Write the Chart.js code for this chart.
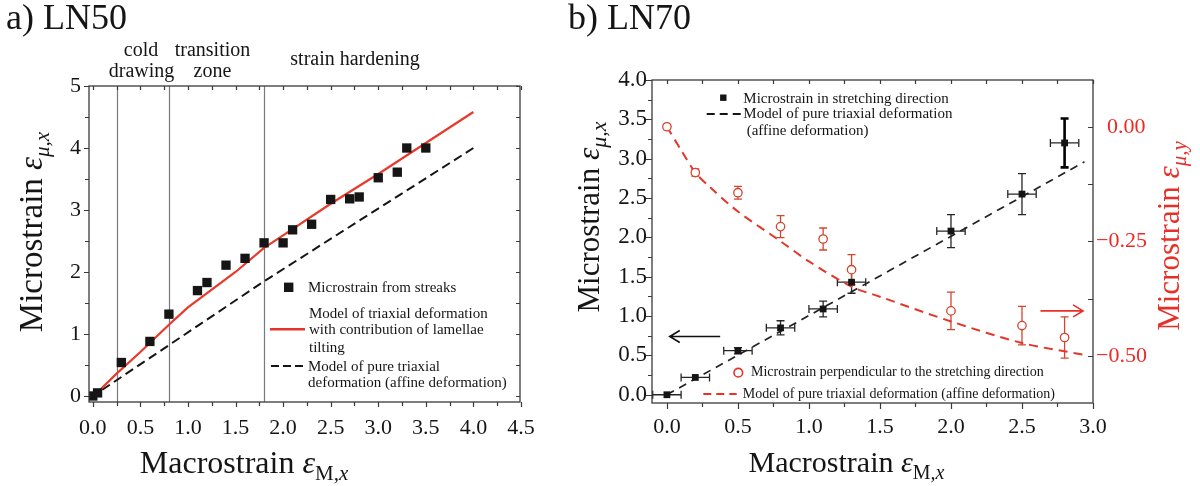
<!DOCTYPE html>
<html><head><meta charset="utf-8">
<script src="https://cdn.jsdelivr.net/npm/chart.js@4/dist/chart.umd.min.js"></script>
<style>
html,body{margin:0;padding:0;background:#fff;width:1200px;height:486px;overflow:hidden}
#wa{position:absolute;left:0;top:0;width:560px;height:486px}
#wb{position:absolute;left:560px;top:0;width:640px;height:486px}
canvas{display:block}
</style></head><body>
<div id="wa"><canvas id="ca" width="560" height="486"></canvas></div>
<div id="wb"><canvas id="cb" width="640" height="486"></canvas></div>
<script>
// ================= Panel a) LN50 =================
const aStrainX = [0.0, 0.05, 0.30, 0.60, 0.80, 1.10, 1.20, 1.40, 1.60, 1.80, 2.00, 2.10, 2.30, 2.50, 2.70, 2.80, 3.00, 3.20, 3.30, 3.50];
const aStrainY = [0.0, 0.05, 0.54, 0.88, 1.32, 1.70, 1.83, 2.11, 2.22, 2.47, 2.47, 2.68, 2.77, 3.17, 3.18, 3.21, 3.52, 3.61, 4.00, 4.00];
const aTiltModelX = [0.05, 0.25, 0.50, 0.80, 1.00, 1.50, 1.80, 2.00, 2.50, 3.00, 3.50, 4.00];
const aTiltModelY = [0.06, 0.36, 0.71, 1.15, 1.43, 2.00, 2.39, 2.59, 3.10, 3.58, 4.08, 4.58];
const aAffineX = [0.10, 0.80, 1.80, 4.00];
const aAffineY = [0.10, 0.82, 1.85, 4.00];
const aRegionBounds = [0.25, 0.80, 1.80];
const aXTicks = [0, 0.5, 1, 1.5, 2, 2.5, 3, 3.5, 4, 4.5];
const aXTickLabels = ['0.0', '0.5', '1.0', '1.5', '2.0', '2.5', '3.0', '3.5', '4.0', '4.5'];
const aYTicks = [0, 1, 2, 3, 4, 5];
const aYTickLabels = ['0', '1', '2', '3', '4', '5'];
const aXMinor = [0, 0.25, 0.5, 0.75, 1, 1.25, 1.5, 1.75, 2, 2.25, 2.5, 2.75, 3, 3.25, 3.5, 3.75, 4, 4.25, 4.5];
const aYMinor = [0, 0.5, 1, 1.5, 2, 2.5, 3, 3.5, 4, 4.5, 5];

// ================= Panel b) LN70 =================
const bMacro = [0.0, 0.2, 0.5, 0.8, 1.1, 1.3, 2.0, 2.5, 2.8];
const bMacroErr = [0.1, 0.1, 0.1, 0.1, 0.1, 0.1, 0.1, 0.1, 0.1];
const bStretch = [0.0, 0.22, 0.56, 0.85, 1.09, 1.43, 2.08, 2.55, 3.20];
const bStretchErr = [0.0, 0.0, 0.04, 0.09, 0.10, 0.14, 0.21, 0.26, 0.31];
const bPerp = [0.0, -0.100, -0.144, -0.218, -0.245, -0.312, -0.402, -0.434, -0.460];
const bPerpErr = [0.0, 0.008, 0.014, 0.024, 0.024, 0.033, 0.041, 0.042, 0.045];
const bAffineStretchX = [0.0, 2.94];
const bAffineStretchY = [0.0, 2.96];
const bAffinePerpX = [0.0, 0.1, 0.2, 0.3, 0.5, 0.8, 1.0, 1.3, 1.5, 2.0, 2.5, 2.94];
const bAffinePerpY = [0.0, -0.051, -0.100, -0.131, -0.185, -0.250, -0.294, -0.349, -0.371, -0.425, -0.472, -0.498];
const bXTicks = [0, 0.5, 1, 1.5, 2, 2.5, 3];
const bXTickLabels = ['0.0', '0.5', '1.0', '1.5', '2.0', '2.5', '3.0'];
const bYTicks = [0, 0.5, 1, 1.5, 2, 2.5, 3, 3.5, 4];
const bYTickLabels = ['0.0', '0.5', '1.0', '1.5', '2.0', '2.5', '3.0', '3.5', '4.0'];
const bY2Ticks = [0, -0.25, -0.5];
const bY2TickLabels = ['\u20070.00', '\u22120.25', '\u22120.50'];
const bXMinor = [0, 0.25, 0.5, 0.75, 1, 1.25, 1.5, 1.75, 2, 2.25, 2.5, 2.75, 3];
const bYMinor = [0, 0.25, 0.5, 0.75, 1, 1.25, 1.5, 1.75, 2, 2.25, 2.5, 2.75, 3, 3.25, 3.5, 3.75, 4];
const bY2Minor = [0, -0.125, -0.25, -0.375, -0.5];
const bArrowLeft = {from: 0.375, to: 0.02, y: 0.74};
const bArrowRight = {from: 2.63, to: 2.93, y: -0.402};

// ================= helpers =================
const SERIF = '"Liberation Serif", "Times New Roman", serif';
const F = (s, st) => (st ? st + ' ' : '') + s + 'px ' + SERIF;
const RED = '#e8302a';
const RED_DATA = '#d2452f';
const INK = '#151515';

function richWidth(ctx, parts) {
  let w = 0;
  for (const p of parts) { ctx.font = p.f; w += ctx.measureText(p.t).width; }
  return w;
}
function drawRich(ctx, parts, x, y, align) {
  const w = richWidth(ctx, parts);
  let cx = align === 'center' ? x - w / 2 : (align === 'right' ? x - w : x);
  ctx.textAlign = 'left';
  ctx.textBaseline = 'alphabetic';
  for (const p of parts) {
    ctx.font = p.f;
    ctx.fillText(p.t, cx, y + (p.dy || 0));
    cx += ctx.measureText(p.t).width;
  }
}
function drawRichRot(ctx, parts, bx, cy) {
  ctx.save();
  ctx.translate(bx, cy);
  ctx.rotate(-Math.PI / 2);
  drawRich(ctx, parts, 0, 0, 'center');
  ctx.restore();
}
function text(ctx, t, x, y, font, align, color) {
  ctx.font = font; ctx.textAlign = align || 'left'; ctx.textBaseline = 'alphabetic';
  ctx.fillStyle = color || INK; ctx.fillText(t, x, y);
}
function ticksX(ctx, sc, vals, majors, yPix, lenMaj, lenMin, dir) {
  ctx.beginPath();
  for (const v of vals) {
    const p = Math.round(sc.getPixelForValue(v)) + 0.5;
    const l = majors.includes(v) ? lenMaj : lenMin;
    ctx.moveTo(p, yPix); ctx.lineTo(p, yPix + dir * l);
  }
  ctx.stroke();
}
function ticksY(ctx, sc, vals, majors, xPix, lenMaj, lenMin, dir) {
  ctx.beginPath();
  for (const v of vals) {
    const p = Math.round(sc.getPixelForValue(v)) + 0.5;
    const l = majors.includes(v) ? lenMaj : lenMin;
    ctx.moveTo(xPix, p); ctx.lineTo(xPix + dir * l, p);
  }
  ctx.stroke();
}
function frame(ctx, ca) {
  ctx.save();
  ctx.strokeStyle = '#3a3a3a'; ctx.lineWidth = 1.3; ctx.setLineDash([]);
  ctx.strokeRect(ca.left, ca.top, ca.right - ca.left, ca.bottom - ca.top);
  ctx.restore();
}
function xyData(xs, ys) { return xs.map((x, i) => ({x: x, y: ys[i]})); }
function fixedTicks(vals) { return s => { s.ticks = vals.map(v => ({value: v})); }; }
function arrow(ctx, x0, x1, y, color) {
  ctx.save();
  ctx.strokeStyle = color; ctx.lineWidth = 1.6; ctx.setLineDash([]);
  const d = x1 > x0 ? 1 : -1;
  ctx.beginPath();
  ctx.moveTo(x0, y); ctx.lineTo(x1, y);
  ctx.moveTo(x1 - d * 10, y - 6); ctx.lineTo(x1, y); ctx.lineTo(x1 - d * 10, y + 6);
  ctx.stroke();
  ctx.restore();
}

// ================= Chart a =================
const plugA = {
  id: 'plugA',
  beforeDatasetsDraw(chart) {
    const ctx = chart.ctx, ca = chart.chartArea, xs = chart.scales.x;
    ctx.save();
    ctx.strokeStyle = '#7a7a7a'; ctx.lineWidth = 1.2;
    ctx.beginPath();
    for (const b of aRegionBounds) {
      const p = Math.round(xs.getPixelForValue(b)) + 0.5;
      ctx.moveTo(p, ca.top); ctx.lineTo(p, ca.bottom);
    }
    ctx.stroke();
    ctx.restore();
  },
  afterDraw(chart) {
    const ctx = chart.ctx, ca = chart.chartArea, xs = chart.scales.x, ys = chart.scales.y;
    frame(ctx, ca);
    ctx.save();
    ctx.strokeStyle = '#3a3a3a'; ctx.lineWidth = 1.2;
    ticksX(ctx, xs, aXMinor, aXTicks, ca.bottom, 5, 4, 1);
    ticksX(ctx, xs, aXMinor, aXTicks, ca.top, 4, 4, 1);
    ticksY(ctx, ys, aYMinor, aYTicks, ca.left, 5, 4, -1);
    ticksY(ctx, ys, aYMinor, aYTicks, ca.right, 4, 4, -1);
    ctx.restore();

    ctx.save();
    ctx.fillStyle = INK;
    // panel title
    text(ctx, 'a) LN50', 6, 29, F(36));
    // region annotations
    text(ctx, 'cold', 141, 56, F(20), 'center');
    text(ctx, 'drawing', 141.5, 77, F(20), 'center');
    text(ctx, 'transition', 212.5, 56, F(20), 'center');
    text(ctx, 'zone', 212.5, 77, F(20), 'center');
    text(ctx, 'strain hardening', 355, 65, F(20), 'center');
    // legend
    ctx.fillStyle = INK;
    ctx.fillRect(288.7 - 4.7, 287.3 - 4.7, 9.4, 9.4);
    text(ctx, 'Microstrain from streaks', 308, 291.7, F(15));
    ctx.strokeStyle = RED; ctx.lineWidth = 2.6; ctx.setLineDash([]);
    ctx.beginPath(); ctx.moveTo(270, 329.3); ctx.lineTo(305, 329.3); ctx.stroke();
    text(ctx, 'Model of triaxial deformation', 309, 317.7, F(15));
    text(ctx, 'with contribution of lamellae', 309, 334.3, F(15));
    text(ctx, 'tilting', 309, 351.7, F(15));
    ctx.strokeStyle = INK; ctx.lineWidth = 2; ctx.setLineDash([8, 4]);
    ctx.beginPath(); ctx.moveTo(271, 366); ctx.lineTo(306, 366); ctx.stroke();
    ctx.setLineDash([]);
    text(ctx, 'Model of pure triaxial', 308, 370.7, F(15));
    text(ctx, 'deformation (affine deformation)', 308, 387.3, F(15));
    // axis titles
    ctx.fillStyle = INK;
    drawRich(ctx, [
      {t: 'Macrostrain ', f: F(32)},
      {t: '\u03B5', f: F(32, 'italic')},
      {t: 'M', f: F(21), dy: 7},
      {t: ',x', f: F(21, 'italic'), dy: 7}
    ], 244, 473, 'center');
    drawRichRot(ctx, [
      {t: 'Microstrain ', f: F(33)},
      {t: '\u03B5', f: F(33, 'italic')},
      {t: '\u03BC,x', f: F(21, 'italic'), dy: 7}
    ], 42, 232);
    ctx.restore();
  }
};

new Chart(document.getElementById('ca'), {
  type: 'scatter',
  data: {datasets: [
    {data: xyData(aStrainX, aStrainY), showLine: false, pointStyle: 'rect', pointRadius: 6.6,
     pointBackgroundColor: INK, pointBorderColor: INK, pointBorderWidth: 0},
    {data: xyData(aTiltModelX, aTiltModelY), showLine: true, pointRadius: 0, borderColor: '#e8392b',
     borderWidth: 2.2, fill: false, tension: 0},
    {data: xyData(aAffineX, aAffineY), showLine: true, pointRadius: 0, borderColor: INK,
     borderWidth: 2, borderDash: [9, 5], fill: false, tension: 0}
  ]},
  options: {
    responsive: false, animation: false, devicePixelRatio: 1, events: [],
    layout: {padding: {left: 0, top: 86, right: 40, bottom: 0}},
    plugins: {legend: {display: false}, tooltip: {enabled: false}},
    scales: {
      x: {type: 'linear', min: -0.04, max: 4.49,
          afterFit: s => { s.height = 84; },
          afterBuildTicks: fixedTicks(aXTicks),
          ticks: {callback: (v, i) => aXTickLabels[i], font: {family: SERIF, size: 22}, color: INK,
                  padding: 13, maxRotation: 0, autoSkip: false},
          grid: {display: false, drawTicks: false}, border: {display: false}},
      y: {type: 'linear', min: -0.097, max: 5,
          afterFit: s => { s.width = 89; },
          afterBuildTicks: fixedTicks(aYTicks),
          ticks: {callback: (v, i) => aYTickLabels[i], font: {family: SERIF, size: 22}, color: INK,
                  padding: 8, autoSkip: false},
          grid: {display: false, drawTicks: false}, border: {display: false}}
    }
  },
  plugins: [plugA]
});

// ================= Chart b =================
const plugB = {
  id: 'plugB',
  beforeDatasetsDraw(chart) {
    const ctx = chart.ctx, xs = chart.scales.x, ys = chart.scales.y, y2 = chart.scales.y2;
    ctx.save();
    ctx.setLineDash([]);
    const cap = 4;
    // black error bars
    for (let i = 0; i < bMacro.length; i++) {
      const px = xs.getPixelForValue(bMacro[i]), py = ys.getPixelForValue(bStretch[i]);
      ctx.strokeStyle = '#262626'; ctx.lineWidth = 1.3;
      const xl = xs.getPixelForValue(bMacro[i] - bMacroErr[i]), xr = xs.getPixelForValue(bMacro[i] + bMacroErr[i]);
      ctx.beginPath();
      ctx.moveTo(xl, py); ctx.lineTo(xr, py);
      ctx.moveTo(xl, py - cap); ctx.lineTo(xl, py + cap);
      ctx.moveTo(xr, py - cap); ctx.lineTo(xr, py + cap);
      ctx.stroke();
      if (bStretchErr[i] > 0) {
        const yt = ys.getPixelForValue(bStretch[i] + bStretchErr[i]), yb = ys.getPixelForValue(bStretch[i] - bStretchErr[i]);
        ctx.lineWidth = (i === bMacro.length - 1) ? 2.6 : 1.3;
        ctx.strokeStyle = (i === bMacro.length - 1) ? '#000' : '#262626';
        ctx.beginPath();
        ctx.moveTo(px, yt); ctx.lineTo(px, yb);
        ctx.moveTo(px - cap, yt); ctx.lineTo(px + cap, yt);
        ctx.moveTo(px - cap, yb); ctx.lineTo(px + cap, yb);
        ctx.stroke();
      }
    }
    // red error bars
    ctx.strokeStyle = RED_DATA; ctx.lineWidth = 1.3;
    for (let i = 0; i < bMacro.length; i++) {
      if (!(bPerpErr[i] > 0)) continue;
      const px = xs.getPixelForValue(bMacro[i]);
      const yt = y2.getPixelForValue(bPerp[i] + bPerpErr[i]), yb = y2.getPixelForValue(bPerp[i] - bPerpErr[i]);
      ctx.beginPath();
      ctx.moveTo(px, yt); ctx.lineTo(px, yb);
      ctx.moveTo(px - cap, yt); ctx.lineTo(px + cap, yt);
      ctx.moveTo(px - cap, yb); ctx.lineTo(px + cap, yb);
      ctx.stroke();
    }
    ctx.restore();
  },
  afterDraw(chart) {
    const ctx = chart.ctx, ca = chart.chartArea, xs = chart.scales.x, ys = chart.scales.y, y2 = chart.scales.y2;
    frame(ctx, ca);
    ctx.save();
    ctx.strokeStyle = '#3a3a3a'; ctx.lineWidth = 1.2;
    ticksX(ctx, xs, bXMinor, bXTicks, ca.bottom, 6, 4, 1);
    ticksX(ctx, xs, bXMinor, bXTicks, ca.top, 4, 4, 1);
    ticksY(ctx, ys, bYMinor, bYTicks, ca.left, 6, 4, -1);
    ticksY(ctx, y2, bY2Minor, bY2Ticks, ca.right, 5, 5, -1);
    ctx.restore();

    const ox = -560; // page -> canvas offset
    ctx.save();
    text(ctx, 'b) LN70', 568 + ox, 29, F(36));
    // top legend
    ctx.fillStyle = INK;
    ctx.fillRect(723.3 + ox - 3.2, 97.7 - 3.2, 6.4, 6.4);
    text(ctx, 'Microstrain in stretching direction', 743.3 + ox, 102.7, F(15));
    ctx.strokeStyle = INK; ctx.lineWidth = 1.8; ctx.setLineDash([8, 5]);
    ctx.beginPath(); ctx.moveTo(706.7 + ox, 114); ctx.lineTo(741.7 + ox, 114); ctx.stroke();
    ctx.setLineDash([]);
    text(ctx, 'Model of pure triaxial deformation', 743.3 + ox, 118.3, F(15));
    text(ctx, '(affine deformation)', 746.7 + ox, 135, F(15));
    // bottom legend
    ctx.strokeStyle = RED; ctx.lineWidth = 1.6;
    ctx.beginPath(); ctx.arc(738.3 + ox, 372.7, 4.3, 0, Math.PI * 2); ctx.stroke();
    text(ctx, 'Microstrain perpendicular to the stretching direction', 751 + ox, 376.3, F(14));
    ctx.strokeStyle = RED; ctx.lineWidth = 2; ctx.setLineDash([8, 5]);
    ctx.beginPath(); ctx.moveTo(703.3 + ox, 394); ctx.lineTo(736.7 + ox, 394); ctx.stroke();
    ctx.setLineDash([]);
    text(ctx, 'Model of pure triaxial deformation (affine deformation)', 742.7 + ox, 398.3, F(14));
    // arrows
    arrow(ctx, xs.getPixelForValue(bArrowLeft.from), xs.getPixelForValue(bArrowLeft.to), ys.getPixelForValue(bArrowLeft.y), '#111');
    arrow(ctx, xs.getPixelForValue(bArrowRight.from), xs.getPixelForValue(bArrowRight.to), y2.getPixelForValue(bArrowRight.y), RED);
    // axis titles
    ctx.fillStyle = INK;
    drawRich(ctx, [
      {t: 'Macrostrain ', f: F(30)},
      {t: '\u03B5', f: F(30, 'italic')},
      {t: 'M', f: F(20), dy: 7},
      {t: ',x', f: F(20, 'italic'), dy: 7}
    ], 846.5 + ox, 471.7, 'center');
    drawRichRot(ctx, [
      {t: 'Microstrain ', f: F(31)},
      {t: '\u03B5', f: F(31, 'italic')},
      {t: '\u03BC,x', f: F(22, 'italic'), dy: 7}
    ], 599 + ox, 217);
    ctx.fillStyle = RED;
    drawRichRot(ctx, [
      {t: 'Microstrain ', f: F(31)},
      {t: '\u03B5', f: F(31, 'italic')},
      {t: '\u03BC,y', f: F(21, 'italic'), dy: 7}
    ], 1179 + ox, 236);
    ctx.restore();
  }
};

new Chart(document.getElementById('cb'), {
  type: 'scatter',
  data: {datasets: [
    {data: xyData(bMacro, bStretch), yAxisID: 'y', showLine: false, pointStyle: 'rect', pointRadius: 4.8,
     pointBackgroundColor: INK, pointBorderColor: INK, pointBorderWidth: 0},
    {data: xyData(bMacro, bPerp), yAxisID: 'y2', showLine: false, pointStyle: 'circle', pointRadius: 4.2,
     pointBackgroundColor: '#ffffff', pointBorderColor: RED_DATA, pointBorderWidth: 1.3},
    {data: xyData(bAffineStretchX, bAffineStretchY), yAxisID: 'y', showLine: true, pointRadius: 0,
     borderColor: '#222', borderWidth: 1.7, borderDash: [8, 6], fill: false, tension: 0},
    {data: xyData(bAffinePerpX, bAffinePerpY), yAxisID: 'y2', showLine: true, pointRadius: 0,
     borderColor: '#e2372a', borderWidth: 2, borderDash: [9, 6], fill: false, tension: 0.3}
  ]},
  options: {
    responsive: false, animation: false, devicePixelRatio: 1, events: [],
    layout: {padding: {left: 0, top: 80, right: 0, bottom: 0}},
    plugins: {legend: {display: false}, tooltip: {enabled: false}},
    scales: {
      x: {type: 'linear', min: -0.105, max: 3.0,
          afterFit: s => { s.height = 83; },
          afterBuildTicks: fixedTicks(bXTicks),
          ticks: {callback: (v, i) => bXTickLabels[i], font: {family: SERIF, size: 22}, color: INK,
                  padding: 11, maxRotation: 0, autoSkip: false},
          grid: {display: false, drawTicks: false}, border: {display: false}},
      y: {type: 'linear', position: 'left', min: -0.105, max: 4.0,
          afterFit: s => { s.width = 92; },
          afterBuildTicks: fixedTicks(bYTicks),
          ticks: {callback: (v, i) => bYTickLabels[i], font: {family: SERIF, size: 23}, color: INK,
                  padding: 5, autoSkip: false},
          grid: {display: false, drawTicks: false}, border: {display: false}},
      y2: {type: 'linear', position: 'right', min: -0.603, max: 0.102,
          afterFit: s => { s.width = 107; },
          afterBuildTicks: fixedTicks(bY2Ticks),
          ticks: {callback: (v, i) => bY2TickLabels[i], font: {family: SERIF, size: 22}, color: '#ee2a24',
                  padding: 3, autoSkip: false},
          grid: {display: false, drawTicks: false}, border: {display: false}}
    }
  },
  plugins: [plugB]
});
</script>
</body></html>
